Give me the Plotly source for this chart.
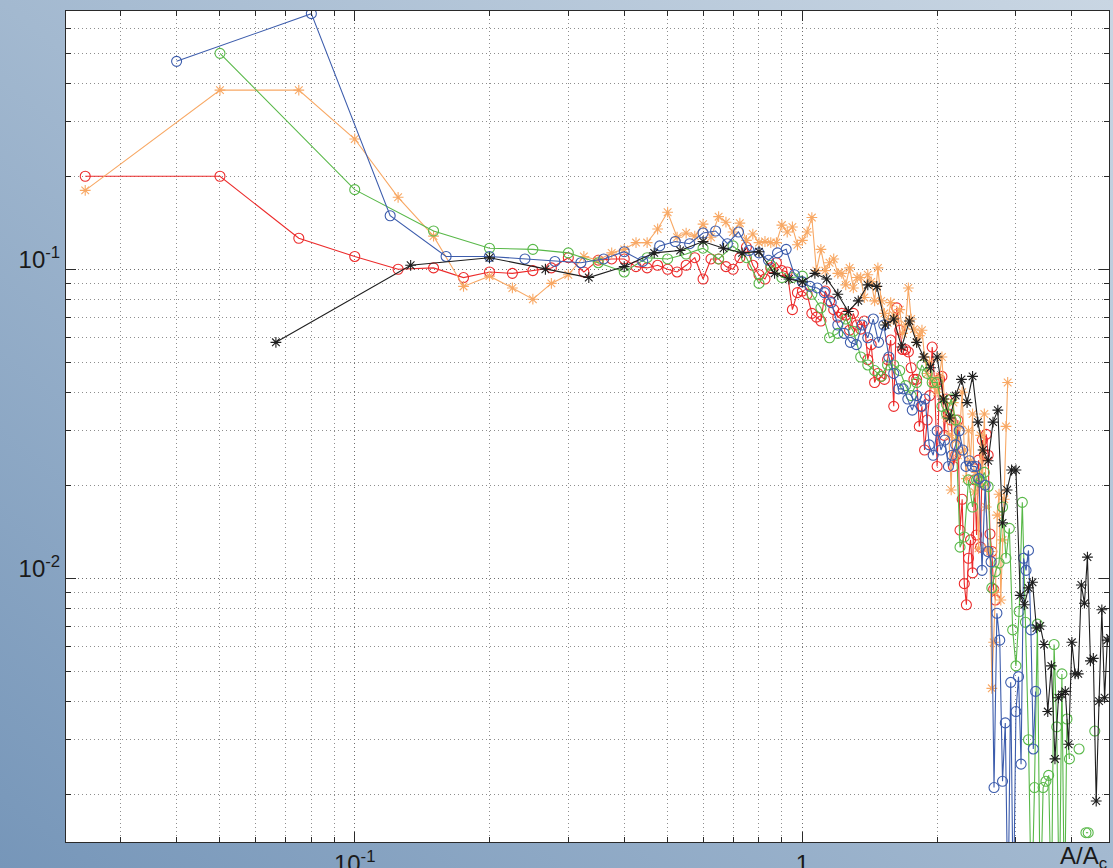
import base64
import plotly.graph_objects as go

# ---------------- data ----------------
STEP_RED = 0.025      # bin width of the red series
STEP_ORANGE = 0.025   # bin width of the orange series
STEP_BLUE = 0.04      # bin width of the blue series
STEP_GREEN = 0.05     # bin width of the green series
STEP_BLACK = 1 / 15   # bin width of the black series

red_y = [0.200, 0.200, 0.126, 0.110, 0.100, 0.101, 0.094, 0.098, 0.097, 0.099,
         0.101, 0.109, 0.098, 0.107, 0.108, 0.108, 0.102, 0.101, 0.103, 0.100,
         0.098, 0.103, 0.109, 0.093, 0.108, 0.108, 0.102, 0.100, 0.109, 0.118,
         0.103, 0.096, 0.093, 0.101, 0.105, 0.099, 0.098, 0.074, 0.084, 0.085,
         0.083, 0.072, 0.070, 0.068, 0.085, 0.079, 0.074, 0.070, 0.072, 0.071,
         0.0635, 0.072, 0.066, 0.064, 0.068, 0.051, 0.057, 0.043, 0.046, 0.045,
         0.044, 0.051, 0.059, 0.036, 0.075, 0.0635, 0.055, 0.055, 0.054, 0.048,
         0.044, 0.044, 0.031, 0.036, 0.026, 0.0325, 0.039, 0.056, 0.043, 0.023,
         0.044, 0.045, 0.029, 0.038, 0.034, 0.0325, 0.023, 0.025, 0.0325, 0.0143,
         0.018, 0.0096, 0.0082, 0.0116, 0.0133, 0.0104, 0.0208, 0.0138, 0.0241, 0.0126,
         0.028, 0.025, 0.0292, 0.025, 0.0139, 0.0122, 0.0092, 0.0085]

orange_y = [0.180, 0.380, 0.380, 0.264, 0.171, 0.128, 0.088, 0.095, 0.087, 0.080,
            0.090, 0.096, 0.110, 0.107, 0.113, 0.116, 0.122, 0.122, 0.135, 0.153,
            0.127, 0.131, 0.128, 0.140, 0.127, 0.148, 0.142, 0.132, 0.141, 0.124,
            0.130, 0.122, 0.123, 0.122, 0.122, 0.139, 0.132, 0.137, 0.120, 0.124,
            0.132, 0.147, 0.099, 0.116, 0.099, 0.105, 0.108, 0.097, 0.097, 0.089,
            0.101, 0.087, 0.094, 0.094, 0.081, 0.096, 0.091, 0.079, 0.101, 0.079,
            0.072, 0.067, 0.078, 0.071, 0.068, 0.074, 0.062, 0.066, 0.087, 0.069,
            0.064, 0.058, 0.061, 0.0635, 0.052, 0.046, 0.050, 0.044, 0.042, 0.040,
            0.045, 0.052, 0.038, 0.033, 0.029, 0.0193, 0.037, 0.028, 0.025, 0.031,
            0.040, 0.026, 0.021, 0.030, 0.024, 0.034, 0.019, 0.022, 0.0125, 0.029,
            0.020, 0.034, 0.017, 0.0125, 0.0122, 0.0044, 0.0062, 0.009, 0.016, 0.0187,
            0.0085, 0.0133, 0.018, 0.031, 0.043]

blue_y = [0.471, 0.672, 0.149, 0.110, 0.110, 0.108, 0.106, 0.105, 0.108, 0.114,
          0.106, 0.119, 0.123, 0.121, 0.131, 0.133, 0.121, 0.132, 0.115, 0.113,
          0.107, 0.113, 0.116, 0.096, 0.091, 0.088, 0.087, 0.084, 0.078, 0.066,
          0.062, 0.058, 0.057, 0.066, 0.060, 0.069, 0.058, 0.066, 0.052, 0.046,
          0.041, 0.041, 0.038, 0.035, 0.039, 0.036, 0.038, 0.027, 0.025, 0.030,
          0.026, 0.028, 0.023, 0.025, 0.027, 0.030, 0.026, 0.023, 0.024, 0.023,
          0.023, 0.021, 0.0106, 0.020, 0.0122, 0.0113, 0.0021, 0.0077, 0.0063, 0.0022,
          0.0034, 0.0008, 0.0046, 0.0008, 0.0037, 0.0048, 0.0025, 0.0116, 0.0106, 0.0123,
          0.0068, 0.0028, 0.0043]

green_y = [0.50, 0.181, 0.133, 0.117, 0.116, 0.113, 0.105, 0.098, 0.109, 0.108,
           0.112, 0.117, 0.108, 0.119, 0.109, 0.090, 0.103, 0.094, 0.094, 0.095,
           0.083, 0.075, 0.060, 0.062, 0.069, 0.063, 0.052, 0.049, 0.047, 0.045,
           0.049, 0.049, 0.047, 0.042, 0.039, 0.043, 0.049, 0.046, 0.043, 0.043,
           0.036, 0.034, 0.038, 0.0325, 0.0126, 0.0136, 0.0208, 0.017, 0.0208, 0.0205,
           0.022, 0.0198, 0.0093, 0.0105, 0.0112, 0.017, 0.0116, 0.0145, 0.0068, 0.0052,
           0.0078, 0.0176, 0.0072, 0.0030, 0.0008, 0.0021, 0.0071, 0.0008, 0.0021, 0.0022,
           0.0023, 0.0008, 0.0061, 0.0033, 0.0008, 0.0049, 0.0008, 0.0035, 0.0026, None,
           None, None, 0.0028, None, None, 0.0015, 0.0015, None, None, 0.0032]

black_y = [0.058, 0.103, 0.109, 0.100, 0.094, 0.102, 0.113, 0.115, 0.123, 0.117,
           0.113, 0.114, 0.097, 0.093, 0.091, 0.097, 0.093, 0.083, 0.073, 0.079,
           0.089, 0.088, 0.066, 0.069, 0.056, 0.068, 0.058, 0.052, 0.048, 0.052,
           0.038, 0.033, 0.039, 0.044, 0.037, 0.045, 0.032, 0.026, 0.024, 0.032,
           0.035, 0.0151, 0.0193, 0.0224, 0.0224, 0.0088, 0.0082, 0.0093, 0.0097, 0.0069,
           0.0070, 0.0061, 0.0037, 0.0052, 0.0026, 0.0041, 0.0042, 0.0043, 0.0029, 0.0062,
           0.0049, 0.0049, 0.0095, 0.0083, 0.0117, 0.0054, 0.0055, 0.0019, 0.0040, 0.0079,
           0.0041, 0.0063, 0.0064]

x_tick_vals = [0.1, 1]
x_tick_text = ["10<sup>-1</sup>", "1"]
y_tick_vals = [0.01, 0.1]
y_tick_text = ["10<sup>-2</sup>", "10<sup>-1</sup>"]
x_minor_vals = [0.03, 0.04, 0.05, 0.06, 0.07, 0.08, 0.09,
                0.2, 0.3, 0.4, 0.5, 0.6, 0.7, 0.8, 0.9, 2, 3, 4]
y_minor_vals = [0.002, 0.003, 0.004, 0.005, 0.006, 0.007, 0.008, 0.009,
                0.02, 0.03, 0.04, 0.05, 0.06, 0.07, 0.08, 0.09,
                0.2, 0.3, 0.4, 0.5, 0.6]
x_label = "A/A<sub>c</sub>"


def bins(step, n):
    return [round(step * (i + 1), 5) for i in range(n)]


# ---------------- figure ----------------
W, H = 1113, 868
ML, MR, MT, MB = 66, 4, 11, 26
PW, PH = W - ML - MR, H - MT - MB
FONT = "Liberation Sans, Arial, Helvetica, sans-serif"

series = [
    ("red", STEP_RED, red_y, "#EC2B2B", "circle-open", 10),
    ("orange", STEP_ORANGE, orange_y, "#F8A864", "asterisk-open", 9),
    ("green", STEP_GREEN, green_y, "#58B848", "circle-open", 10),
    ("blue", STEP_BLUE, blue_y, "#3C5CAC", "circle-open", 10),
    ("black", STEP_BLACK, black_y, "#1E1E1E", "asterisk-open", 9),
]

fig = go.Figure()
for name, step, ys, color, symbol, msize in series:
    fig.add_trace(go.Scatter(
        x=bins(step, len(ys)), y=ys, name=name, mode="lines+markers",
        line=dict(color=color, width=1.1),
        marker=dict(symbol=symbol, size=msize, color=color,
                    line=dict(color=color, width=1.1)),
        connectgaps=False,
    ))

svg = (
    f'<svg xmlns="http://www.w3.org/2000/svg" width="{W}" height="{H}" '
    f'viewBox="0 0 {W} {H}" preserveAspectRatio="none">'
    '<defs><linearGradient id="g" x1="0" y1="1" x2="1" y2="0">'
    '<stop offset="0" stop-color="#7696B9"/>'
    '<stop offset="0.5" stop-color="#A3B9D0"/>'
    '<stop offset="1" stop-color="#C9D6E3"/>'
    '</linearGradient></defs>'
    f'<rect width="{W}" height="{H}" fill="url(#g)"/></svg>'
)
src = "data:image/svg+xml;base64," + base64.b64encode(svg.encode()).decode()

GRID_DASH = "1px,3px"

axis_common = dict(
    type="log", showline=True, linecolor="#2a2a2a", linewidth=1,
    mirror="ticks", ticks="inside", ticklen=10, tickwidth=1, tickcolor="#2a2a2a",
    showgrid=True, gridcolor="#6e6e6e", griddash=GRID_DASH, gridwidth=1,
    zeroline=False, automargin=False,
    tickfont=dict(family=FONT, size=24, color="#1a1a1a"),
)
minor_common = dict(tickmode="array", ticks="inside", ticklen=5, tickcolor="#2a2a2a",
                    showgrid=True, gridcolor="#8e8e8e", griddash=GRID_DASH, gridwidth=1)

fig.update_layout(
    width=W, height=H,
    margin=dict(l=ML, r=MR, t=MT, b=MB, pad=0),
    paper_bgcolor="#A3B9D0", plot_bgcolor="white",
    showlegend=False,
    xaxis=dict(range=[-1.645, 0.685], tickmode="array", tickvals=x_tick_vals,
               ticktext=x_tick_text,
               minor=dict(tickvals=x_minor_vals, **minor_common),
               **axis_common),
    yaxis=dict(range=[-2.854, -0.164], tickmode="array", tickvals=y_tick_vals,
               ticktext=y_tick_text, ticklabelshift=-10,
               minor=dict(tickvals=y_minor_vals, **minor_common),
               **axis_common),
    images=[dict(source=src, xref="paper", yref="paper",
                 x=-ML / PW, y=1 + MT / PH, sizex=W / PW, sizey=H / PH,
                 xanchor="left", yanchor="top", sizing="stretch", layer="below")],
    shapes=[dict(type="rect", xref="paper", yref="paper", x0=0, x1=1, y0=0, y1=1,
                 fillcolor="white", line=dict(width=0), layer="below")],
    annotations=[dict(text=x_label, xref="paper", yref="paper", x=1.0, y=-0.019,
                      xanchor="right", yanchor="middle", showarrow=False,
                      font=dict(family=FONT, size=24, color="#1a1a1a"))],
)

fig.write_html("out.html",
               config={"displayModeBar": False},
               post_script="document.body.style.margin='0';"
                           "document.body.style.overflow='hidden';")
